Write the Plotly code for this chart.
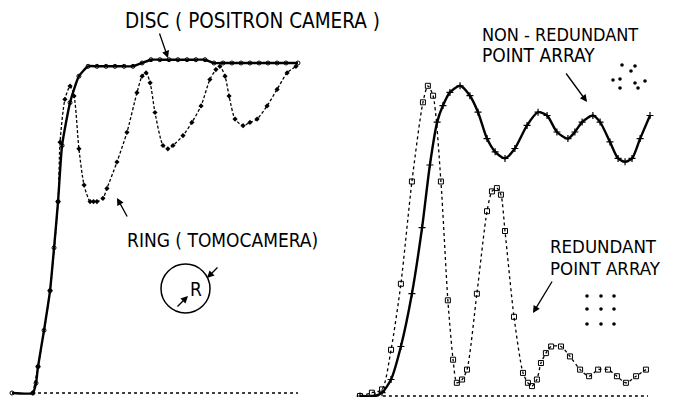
import plotly.graph_objects as go

# ---------------- data (relative response vs. spatial position) ----------------
disc_x = [0, 0.73, 0.84, 0.91, 1.12, 1.33, 1.47, 1.61, 1.75, 2.03, 2.34, 2.66,
          2.97, 3.29, 3.60, 3.92, 4.23, 4.55, 4.86, 5.17, 5.49, 5.80, 6.12, 6.43,
          6.75, 7.06, 7.38, 7.69, 8.01, 8.32, 8.64, 8.95, 9.27, 9.58, 10.0]
disc_y = [0, 0, 0.03, 0.08, 0.19, 0.31, 0.44, 0.58, 0.75, 0.88, 0.96, 0.99,
          0.99, 0.99, 0.99, 0.99, 0.99, 1.00, 1.01, 1.01, 1.01, 1.01, 1.01, 1.01,
          1.01, 1.00, 1.00, 1.00, 1.00, 1.00, 1.00, 1.00, 1.00, 1.00, 1.00]

ring_x = [0.73, 0.91, 1.33, 1.61, 1.68, 1.85, 2.03, 2.17, 2.34, 2.52, 2.73, 2.85,
          2.97, 3.18, 3.32, 3.67, 4.02, 4.37, 4.55, 4.69, 4.83, 5.00, 5.28, 5.45,
          5.63, 5.98, 6.29, 6.61, 6.92, 7.13, 7.27, 7.45, 7.59, 7.80, 8.08, 8.32,
          8.57, 8.92, 9.27, 9.62, 9.93]
ring_y = [0, 0.08, 0.31, 0.58, 0.76, 0.89, 0.93, 0.90, 0.74, 0.63, 0.58, 0.58,
          0.58, 0.59, 0.62, 0.70, 0.79, 0.91, 0.96, 0.97, 0.94, 0.85, 0.75, 0.74,
          0.75, 0.78, 0.82, 0.87, 0.95, 0.98, 0.99, 0.96, 0.90, 0.83, 0.81, 0.82,
          0.83, 0.87, 0.92, 0.97, 0.99]

nr_x = [0, 0.52, 0.76, 1.07, 1.41, 1.79, 2.14, 2.41, 2.66, 2.86, 3.10, 3.45,
        3.79, 4.07, 4.38, 4.66, 5.00, 5.34, 5.76, 6.14, 6.45, 6.79, 7.17, 7.41,
        7.66, 8.03, 8.28, 8.62, 8.90, 9.14, 9.38, 9.66, 10.0]
nr_y = [0, 0, 0.01, 0.05, 0.15, 0.31, 0.51, 0.70, 0.83, 0.88, 0.92, 0.94,
        0.91, 0.86, 0.78, 0.74, 0.72, 0.75, 0.82, 0.86, 0.85, 0.80, 0.78, 0.80,
        0.83, 0.85, 0.83, 0.77, 0.72, 0.71, 0.72, 0.78, 0.85]

red_x = [0, 0.41, 0.76, 1.07, 1.41, 1.79, 2.17, 2.34, 2.52, 2.79, 3.03, 3.21,
         3.34, 3.52, 3.69, 4.03, 4.38, 4.55, 4.72, 4.86, 5.00, 5.31, 5.62, 5.79,
         5.93, 6.10, 6.24, 6.41, 6.59, 6.93, 7.24, 7.59, 7.90, 8.21, 8.55, 8.86,
         9.17, 9.52, 9.86]
red_y = [0, 0.01, 0.02, 0.14, 0.34, 0.65, 0.89, 0.94, 0.91, 0.65, 0.29, 0.11,
         0.04, 0.05, 0.08, 0.31, 0.56, 0.62, 0.63, 0.61, 0.50, 0.24, 0.07, 0.04,
         0.03, 0.05, 0.10, 0.13, 0.15, 0.15, 0.12, 0.08, 0.06, 0.08, 0.08, 0.06,
         0.04, 0.06, 0.08]

base_left_x = [0.91, 10.0]
base_right_x = [0.79, 9.93]
base_y = [0, 0]

labels = {
    "disc": "DISC ( POSITRON CAMERA )",
    "ring": "RING ( TOMOCAMERA)",
    "nr1": "NON - REDUNDANT",
    "nr2": "POINT ARRAY",
    "r1": "REDUNDANT",
    "r2": "POINT ARRAY",
}

# ---------------- figure ----------------
W, H = 676, 397
FONT = "DejaVu Sans Condensed, Liberation Sans Narrow, sans-serif"


def P(px, py):
    """pixel position -> paper coordinates (for decorations only)"""
    return px / W, 1 - py / H


fig = go.Figure()

# left panel
fig.add_trace(go.Scatter(x=base_left_x, y=base_y, mode="lines",
                         line=dict(color="black", width=1.6, dash="dot"),
                         xaxis="x", yaxis="y", hoverinfo="skip"))
fig.add_trace(go.Scatter(x=ring_x, y=ring_y, mode="lines+markers",
                         line=dict(color="black", width=1.3, dash="3px,2px",
                                   shape="spline", smoothing=0.7),
                         marker=dict(symbol="diamond", size=4, color="black"),
                         xaxis="x", yaxis="y", name="ring"))
fig.add_trace(go.Scatter(x=disc_x, y=disc_y, mode="lines+markers",
                         line=dict(color="black", width=2.4,
                                   shape="spline", smoothing=0.5),
                         marker=dict(symbol="circle-open", size=4, color="black",
                                     line=dict(width=1)),
                         xaxis="x", yaxis="y", name="disc"))

# right panel
fig.add_trace(go.Scatter(x=base_right_x, y=base_y, mode="lines",
                         line=dict(color="black", width=1.6, dash="dot"),
                         xaxis="x2", yaxis="y2", hoverinfo="skip"))
fig.add_trace(go.Scatter(x=red_x, y=red_y, mode="lines+markers",
                         line=dict(color="black", width=1.3, dash="dot",
                                   shape="spline", smoothing=0.7),
                         marker=dict(symbol="square-open", size=5, color="black",
                                     line=dict(width=1)),
                         xaxis="x2", yaxis="y2", name="redundant"))
fig.add_trace(go.Scatter(x=nr_x, y=nr_y, mode="lines+markers",
                         line=dict(color="black", width=2.4,
                                   shape="spline", smoothing=0.7),
                         marker=dict(symbol="cross-thin-open", size=5, color="black",
                                     line=dict(width=1.2)),
                         xaxis="x2", yaxis="y2", name="non-redundant"))

ax_common = dict(visible=False, showgrid=False, zeroline=False, fixedrange=True)

fig.update_layout(
    width=W, height=H,
    margin=dict(l=0, r=0, t=0, b=0),
    paper_bgcolor="white", plot_bgcolor="white",
    showlegend=False,
    xaxis=dict(domain=[0, 0.5], range=[-0.42, 11.40], **ax_common),
    yaxis=dict(domain=[0, 1], range=[-0.0121, 1.1909], **ax_common),
    xaxis2=dict(domain=[0.5, 1], range=[-0.759, 10.897], anchor="y2", **ax_common),
    yaxis2=dict(domain=[0, 1], range=[-0.0030, 1.2000], anchor="x2", **ax_common),
    font=dict(family=FONT, color="black"),
)

# ---------------- text labels ----------------
def text(px, py, s, size=21, xanchor="center"):
    x, y = P(px, py)
    fig.add_annotation(x=x, y=y, xref="paper", yref="paper", text=s,
                       showarrow=False, xanchor=xanchor, yanchor="middle",
                       font=dict(family=FONT, size=size, color="black"))


def arrow(tail, tip):
    x, y = P(*tip)
    fig.add_annotation(x=x, y=y, xref="paper", yref="paper", text="",
                       showarrow=True, ax=tail[0] - tip[0], ay=tail[1] - tip[1],
                       arrowhead=2, arrowsize=1.1, arrowwidth=1.3,
                       arrowcolor="black")


text(252, 21, labels["disc"], size=20.5)
text(222, 240, labels["ring"], size=19)
text(480, 35, labels["nr1"], size=18, xanchor="left")
text(480, 55, labels["nr2"], size=19, xanchor="left")
text(548, 246, labels["r1"], size=18.5, xanchor="left")
text(548, 268, labels["r2"], size=18.5, xanchor="left")
text(196, 289, "R", size=19)

arrow((159, 32), (168, 58))
arrow((128, 218), (117, 198))
arrow((565, 72), (587, 102))
arrow((553, 280), (533, 313))
arrow((176, 308), (188, 296))
arrow((219, 266), (207, 278))

# ring symbol (circle of radius R)
x0, y1 = P(161, 264)
x1, y0 = P(210, 313)
fig.add_shape(type="circle", xref="paper", yref="paper", x0=x0, x1=x1, y0=y0, y1=y1,
              line=dict(color="black", width=1.5))

# point-array pictograms
nr_dots = [(622, 65), (635, 66), (631, 71), (613, 80), (620, 79), (635, 83),
           (645, 81), (620, 88), (638, 88)]
r_dots = [(px, py) for py in (296, 309, 324) for px in (587, 601, 614)]
for (px, py) in nr_dots + r_dots:
    a, b = P(px - 1.8, py - 1.8)
    c, d = P(px + 1.8, py + 1.8)
    fig.add_shape(type="circle", xref="paper", yref="paper", x0=a, x1=c, y0=d, y1=b,
                  fillcolor="black", line=dict(color="black", width=0))

fig.write_html("out.html",
               config={"displayModeBar": False, "staticPlot": True},
               post_script="document.body.style.margin='0';document.body.style.padding='0';")
